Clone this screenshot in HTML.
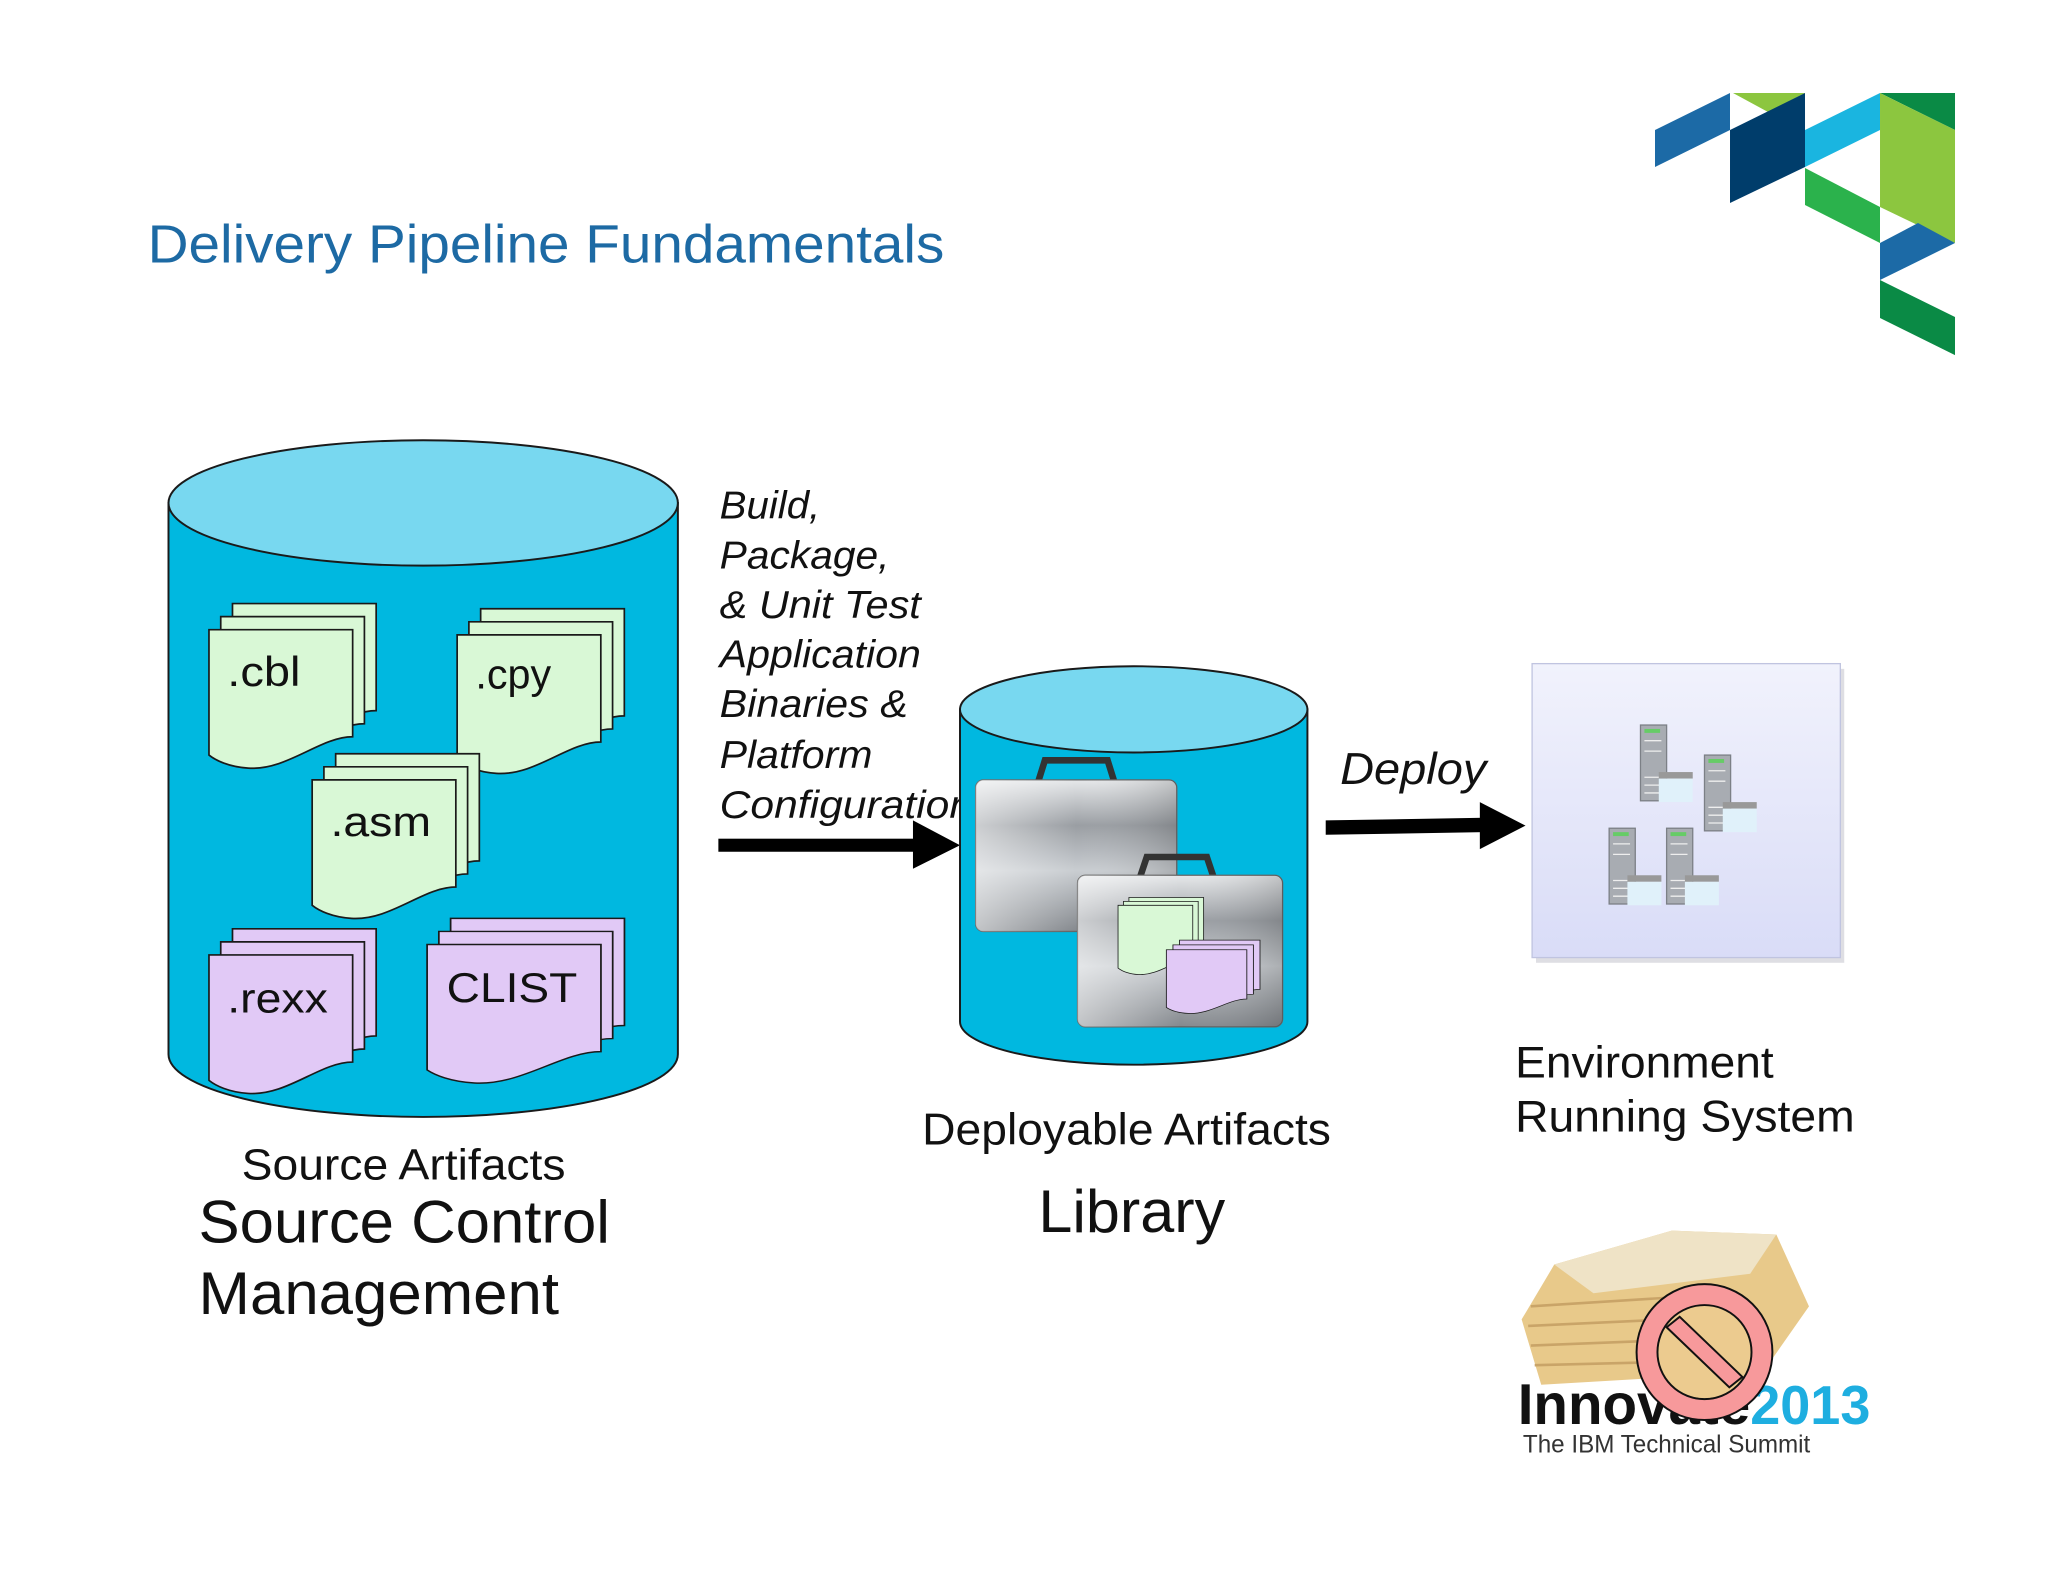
<!DOCTYPE html>
<html><head><meta charset="utf-8"><style>
html,body{margin:0;padding:0;background:#fff;}
svg{display:block;font-family:"Liberation Sans",sans-serif;}
</style></head><body>
<svg width="2048" height="1582" viewBox="0 0 1568 1211" preserveAspectRatio="none" xmlns="http://www.w3.org/2000/svg">
<defs>
<path id="doc" d="M0,0 H110 V82 C85,82 60,108 30,106 C15,105 5,100 0,96 Z"/>
<linearGradient id="metal" x1="0" y1="0" x2="0" y2="1">
<stop offset="0" stop-color="#e6e8ea"/><stop offset="0.3" stop-color="#9a9ea3"/><stop offset="0.6" stop-color="#c9cdd1"/><stop offset="1" stop-color="#85898e"/></linearGradient>
<linearGradient id="metalh" x1="0" y1="0" x2="1" y2="0">
<stop offset="0" stop-color="#ffffff" stop-opacity="0.5"/><stop offset="0.5" stop-color="#ffffff" stop-opacity="0"/><stop offset="1" stop-color="#000" stop-opacity="0.15"/></linearGradient>
<linearGradient id="env" x1="0" y1="0" x2="0" y2="1">
<stop offset="0" stop-color="#f1f2fc"/><stop offset="1" stop-color="#d9dcf7"/></linearGradient>
<g id="server">
<rect x="0" y="0" width="20" height="58" fill="#a8acb2" stroke="#7c8086" stroke-width="1"/>
<rect x="3" y="3" width="12" height="3" fill="#6c6"/>
<line x1="3" y1="12" x2="16" y2="12" stroke="#eee"/><line x1="3" y1="20" x2="16" y2="20" stroke="#eee"/>
<line x1="3" y1="40" x2="16" y2="40" stroke="#eee"/><line x1="3" y1="46" x2="16" y2="46" stroke="#eee"/><line x1="3" y1="52" x2="16" y2="52" stroke="#eee"/>
<rect x="14" y="36" width="26" height="5" fill="#999"/>
<rect x="14" y="41" width="26" height="18" fill="#e0f1fa"/>
</g>
</defs>

<text x="113" y="201" font-size="41" fill="#1d6aa4" textLength="610" lengthAdjust="spacingAndGlyphs">Delivery Pipeline Fundamentals</text>

<g transform="scale(0.76563)">
<polygon points="1655,130 1730,93 1730,130 1655,167" fill="#1c6aa6"/>
<polygon points="1733,93 1805,93 1768,112" fill="#8cc63f"/>
<polygon points="1730,130 1805,93 1805,167 1730,203" fill="#003d6b"/>
<polygon points="1805,130 1880,93 1880,130 1805,167" fill="#1ab5e0"/>
<polygon points="1880,93 1955,93 1955,130" fill="#0a8a45"/>
<polygon points="1880,93 1955,130 1955,243 1880,207" fill="#8cc63f"/>
<polygon points="1805,168 1880,207 1880,243 1805,205" fill="#2bb24c"/>
<polygon points="1880,243 1918,223 1955,243 1880,280" fill="#1c6aa6"/>
<polygon points="1880,280 1955,317 1955,355 1880,318" fill="#0a8a45"/>
</g>

<path d="M129,385 V807 A195,48 0 0 0 519,807 V385 Z" fill="#00b8e0" stroke="#1a1a1a" stroke-width="1.5"/>
<ellipse cx="324" cy="385" rx="195" ry="48" fill="#78d8f0" stroke="#1a1a1a" stroke-width="1.5"/>

<g stroke="#1a1a1a" stroke-width="1.3" fill="#d9f8d6">
<use href="#doc" x="178" y="462"/><use href="#doc" x="169" y="472"/><use href="#doc" x="160" y="482"/>
<use href="#doc" x="368" y="466"/><use href="#doc" x="359" y="476"/><use href="#doc" x="350" y="486"/>
<use href="#doc" x="257" y="577"/><use href="#doc" x="248" y="587"/><use href="#doc" x="239" y="597"/>
</g>
<g stroke="#1a1a1a" stroke-width="1.3" fill="#e1c9f6">
<use href="#doc" x="178" y="711"/><use href="#doc" x="169" y="721"/><use href="#doc" x="160" y="731"/>
<g transform="translate(345,703) scale(1.21,1)"><use href="#doc" stroke-width="1.1"/></g>
<g transform="translate(336,713) scale(1.21,1)"><use href="#doc" stroke-width="1.1"/></g>
<g transform="translate(327,723) scale(1.21,1)"><use href="#doc" stroke-width="1.1"/></g>
</g>
<g font-size="32" fill="#111">
<text x="174" y="525" textLength="56" lengthAdjust="spacingAndGlyphs">.cbl</text>
<text x="364" y="527" textLength="58" lengthAdjust="spacingAndGlyphs">.cpy</text>
<text x="253" y="640" textLength="77" lengthAdjust="spacingAndGlyphs">.asm</text>
<text x="174" y="775" textLength="77" lengthAdjust="spacingAndGlyphs">.rexx</text>
<text x="342" y="767" textLength="100" lengthAdjust="spacingAndGlyphs">CLIST</text>
</g>

<text x="185" y="903" font-size="33" fill="#111" textLength="248" lengthAdjust="spacingAndGlyphs">Source Artifacts</text>
<text x="152" y="951" font-size="46" fill="#111" textLength="315" lengthAdjust="spacingAndGlyphs">Source Control</text>
<text x="152" y="1006" font-size="46" fill="#111" textLength="276" lengthAdjust="spacingAndGlyphs">Management</text>

<g font-size="30" font-style="italic" fill="#111">
<text x="551" y="397" textLength="77" lengthAdjust="spacingAndGlyphs">Build,</text>
<text x="551" y="435" textLength="130" lengthAdjust="spacingAndGlyphs">Package,</text>
<text x="551" y="473" textLength="154" lengthAdjust="spacingAndGlyphs">&amp; Unit Test</text>
<text x="551" y="511" textLength="154" lengthAdjust="spacingAndGlyphs">Application</text>
<text x="551" y="549" textLength="144" lengthAdjust="spacingAndGlyphs">Binaries &amp;</text>
<text x="551" y="588" textLength="117" lengthAdjust="spacingAndGlyphs">Platform</text>
<text x="551" y="626" textLength="194" lengthAdjust="spacingAndGlyphs">Configuration</text>
</g>
<rect x="550" y="642" width="152" height="10" fill="#000"/>
<polygon points="699,628 735,647 699,665" fill="#000"/>

<path d="M735,543 V782 A133,33 0 0 0 1001,782 V543 Z" fill="#00b8e0" stroke="#1a1a1a" stroke-width="1.5"/>
<ellipse cx="868" cy="543" rx="133" ry="33" fill="#78d8f0" stroke="#1a1a1a" stroke-width="1.5"/>

<path d="M795,598 L800,582 H848 L853,598" fill="none" stroke="#333" stroke-width="5"/>
<rect x="747" y="597" width="154" height="116" rx="6" fill="url(#metal)" stroke="#666"/>
<rect x="747" y="597" width="154" height="116" rx="6" fill="url(#metalh)"/>
<path d="M873,671 L878,656 H924 L929,671" fill="none" stroke="#333" stroke-width="5"/>
<rect x="825" y="670" width="157" height="116" rx="6" fill="url(#metal)" stroke="#666"/>
<rect x="825" y="670" width="157" height="116" rx="6" fill="url(#metalh)"/>
<g stroke="#1a1a1a" stroke-width="1.2">
<g fill="#d9f8d6" transform="translate(856,693) scale(0.52,0.5)"><use href="#doc" x="16" y="-12"/><use href="#doc" x="8" y="-6"/><use href="#doc"/></g>
<g fill="#e1c9f6" transform="translate(893,727) scale(0.56,0.46)"><use href="#doc" x="18" y="-16"/><use href="#doc" x="9" y="-8"/><use href="#doc"/></g>
</g>

<text x="706" y="876" font-size="34" fill="#111" textLength="313" lengthAdjust="spacingAndGlyphs">Deployable Artifacts</text>
<text x="795" y="943" font-size="46" fill="#111" textLength="143" lengthAdjust="spacingAndGlyphs">Library</text>

<text x="1026" y="600" font-size="34" font-style="italic" fill="#111" textLength="112" lengthAdjust="spacingAndGlyphs">Deploy</text>
<polygon points="1015,628 1136,626 1136,637 1015,639" fill="#000"/>
<polygon points="1133,614 1168,632 1133,650" fill="#000"/>

<rect x="1176" y="512" width="236" height="225" fill="#c8c8d0" opacity="0.6"/>
<rect x="1173" y="508" width="236" height="225" fill="url(#env)" stroke="#c0c4e0"/>
<use href="#server" x="1256" y="555"/>
<use href="#server" x="1305" y="578"/>
<use href="#server" x="1232" y="634"/>
<use href="#server" x="1276" y="634"/>

<text x="1160" y="825" font-size="34" fill="#111" textLength="198" lengthAdjust="spacingAndGlyphs">Environment</text>
<text x="1160" y="866" font-size="34" fill="#111" textLength="260" lengthAdjust="spacingAndGlyphs">Running System</text>

<polygon points="1190,968 1280,942 1360,945 1385,1000 1350,1050 1180,1060 1165,1010" fill="#e8c98a"/>
<polygon points="1190,968 1280,942 1360,945 1340,975 1220,990" fill="#efe3c6"/>
<g stroke="#c9a468" stroke-width="2" fill="none">
<path d="M1172,1000 L1330,990"/><path d="M1170,1015 L1320,1008"/><path d="M1172,1030 L1300,1025"/><path d="M1175,1045 L1300,1042"/>
</g>
<text x="1162" y="1090" font-size="44" font-weight="bold" fill="#111" textLength="178" lengthAdjust="spacingAndGlyphs">Innovate</text>
<text x="1340" y="1090" font-size="42" font-weight="bold" fill="#1eaee0" textLength="92" lengthAdjust="spacingAndGlyphs">2013</text>
<text x="1166" y="1112" font-size="19" fill="#333" textLength="220" lengthAdjust="spacingAndGlyphs">The IBM Technical Summit</text>
<circle cx="1305" cy="1035" r="52" fill="#f7999b" stroke="#111" stroke-width="1.5"/>
<circle cx="1305" cy="1035" r="36" fill="#eccb8f" stroke="#111" stroke-width="1.5"/>
<polygon points="1276,1016 1286,1008 1334,1054 1324,1062" fill="#f7999b" stroke="#111" stroke-width="1.5"/>
</svg>
</body></html>
